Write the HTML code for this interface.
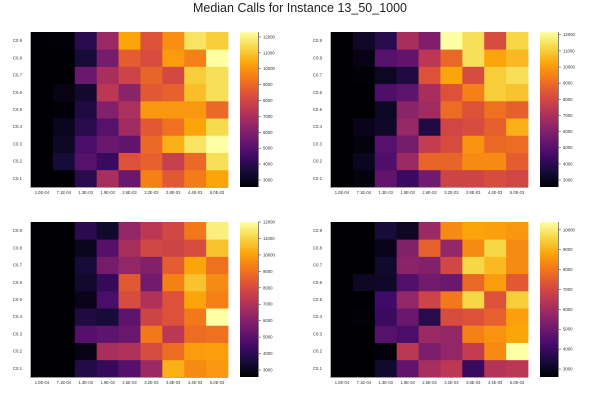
<!DOCTYPE html>
<html><head><meta charset="utf-8"><style>
html,body{margin:0;padding:0;background:#fff;width:600px;height:400px;overflow:hidden}
svg{display:block;font-family:"Liberation Sans",sans-serif}
</style></head><body>
<svg id="chart" width="600" height="400" viewBox="0 0 600 400">
<text x="300" y="12" text-anchor="middle" font-size="12.5" fill="#222">Median Calls for Instance 13_50_1000</text>
</svg>
<script>
const xLabels = ["1.0E-04","7.1E-04","1.3E-03","1.9E-03","2.6E-03","3.2E-03","3.8E-03","4.4E-03","5.0E-03"];
const yLabels = ["C0.1","C0.2","C0.3","C0.4","C0.5","C0.6","C0.7","C0.8","C0.9"];
// rows listed bottom (C0.1) to top (C0.9)
const values1 = [
[2560,2560,3930,6950,5490,9580,8600,9480,10360],
[2560,3540,5000,4320,8410,8800,7730,9000,11530],
[2560,3150,4700,5490,5290,9000,10560,11630,12310],
[2560,3050,3930,5000,6750,8600,9190,10360,11430],
[2560,2660,3730,6070,7050,10070,10070,10070,9000],
[2560,2850,3340,7440,6270,8600,8800,10850,11530],
[2560,2560,5490,6950,7920,8900,8120,11140,11530],
[2560,2560,3540,5780,8700,8220,10170,9580,12310],
[2600,2650,4000,6650,10360,8410,9870,11630,11140]];
const values2 = [
[2570,2760,5260,4300,5640,7850,7850,8130,7940],
[2570,3050,4770,6600,8810,8810,9670,9670,8620],
[2570,2760,4970,5740,7560,8130,9860,8900,9000],
[2570,2950,3240,6500,3720,7940,8130,8710,10440],
[2570,2570,3140,6210,6690,9000,8330,9100,8710],
[2570,2570,4770,5160,6890,8330,9480,11010,10820],
[2570,2660,3140,3720,8330,10250,8130,11010,11400],
[2570,2850,4970,5260,7370,8900,11400,10250,10630],
[2570,3240,3910,6890,5930,12170,11400,8130,11210]];
const values3 = [
[2575,2575,3800,4180,4930,6530,10300,9550,9830],
[2575,2575,2860,6820,7005,8040,8890,9930,10020],
[2575,2575,4930,5120,5400,9170,7290,8890,8980],
[2575,2575,3705,3520,5120,7760,8230,9170,12000],
[2575,2575,2950,4650,8040,7005,8230,10120,9360],
[2575,2575,3330,4180,8420,5590,9360,10680,9550],
[2575,2575,3520,5680,6345,5970,8510,10120,8980],
[2575,2575,3050,4930,6820,7850,7760,8040,10680],
[2575,2575,3990,3330,6345,7290,7850,9170,11620]];
const values4 = [
[2600,2600,3220,4780,6110,6500,4000,6340,6500],
[2600,2600,2680,6500,5250,5720,6650,8360,10390],
[2600,2600,4550,4310,5870,5720,8210,8520,8830],
[2600,2680,4000,4940,3690,7120,7270,7590,8750],
[2600,2600,4160,5720,6880,8050,9610,7270,9460],
[2600,3070,3150,4470,5090,4940,7740,8680,7430],
[2600,2600,3220,5560,5400,6960,9610,9140,8360],
[2600,2600,2910,5400,7590,5720,8360,9610,8360],
[2600,2600,3380,3070,5870,8360,8830,8750,8600]];
const cbTicks1 = [3000,4000,5000,6000,7000,8000,9000,10000,11000,12000];
const cbTicks2 = [3000,4000,5000,6000,7000,8000,9000,10000,11000,12000];
const cbTicks3 = [3000,4000,5000,6000,7000,8000,9000,10000,11000,12000];
const cbTicks4 = [3000,4000,5000,6000,7000,8000,9000,10000];

const INF = ["#000004","#160b39","#420a68","#6a176e","#932667","#bc3754","#dd513a","#f37819","#fca50a","#f6d746","#fcffa4"];
function hex(c){return [1,3,5].map(i=>parseInt(c.substr(i,2),16));}
function inferno(t){t=Math.max(0,Math.min(1,t));const p=t*10,i=Math.min(9,Math.floor(p)),f=p-i;
 const a=hex(INF[i]),b=hex(INF[i+1]);return "rgb("+a.map((v,k)=>Math.round(v+(b[k]-v)*f)).join(",")+")";}
const NS="http://www.w3.org/2000/svg";
const svg=document.getElementById("chart");
function mk(tag,attrs,parent){const e=document.createElementNS(NS,tag);for(const k in attrs)e.setAttribute(k,attrs[k]);(parent||svg).appendChild(e);return e;}

const panels=[
 {vals:values1,ticks:cbTicks1,ox:0,oy:0,vmin:2560,vmax:12310},
 {vals:values2,ticks:cbTicks2,ox:300,oy:0,vmin:2566,vmax:12170},
 {vals:values3,ticks:cbTicks3,ox:0,oy:190,vmin:2575,vmax:12000},
 {vals:values4,ticks:cbTicks4,ox:300,oy:190,vmin:2600,vmax:10390}];

const defs=mk("defs",{});
const grad=mk("linearGradient",{id:"infg",x1:"0",y1:"1",x2:"0",y2:"0"},defs);
INF.forEach((c,i)=>mk("stop",{offset:(i/10),"stop-color":c},grad));

panels.forEach((P,pi)=>{
 const g=mk("g",{});
 
 
 const L=P.ox+31,R=P.ox+228,T=P.oy+32,B=P.oy+187;
 const cw=(R-L)/9,ch=(B-T)/9;
 const xs=i=>L+i*cw, ys=j=>B-(j+1)*ch;
 P.vals.forEach((row,j)=>row.forEach((v,i)=>{
  const r=mk("rect",{x:xs(i),y:ys(j),width:cw+0.4,height:ch+0.4,fill:inferno((v-P.vmin)/(P.vmax-P.vmin))},g);
  
  
 }));
 const ax=mk("path",{d:`M${L-0.5},${T} V${B+0.5} H${R}`,stroke:"#999",fill:"none","stroke-width":0.8},g);
 
 
 yLabels.forEach((s,j)=>{const t=mk("text",{x:L-9,y:ys(j)+ch/2+1.5,"font-size":4.3,"text-anchor":"end",fill:"#333"},g);t.textContent=s;
  
  });
 xLabels.forEach((s,i)=>{const t=mk("text",{x:xs(i)+cw/2,y:B+7,"font-size":4.1,"text-anchor":"middle",fill:"#333"},g);t.textContent=s;
  
  });
 // colorbar
 const cL=P.ox+240,cR=P.ox+258;
 const cb=mk("rect",{x:cL,y:T,width:cR-cL,height:B-T,fill:"url(#infg)"},g);
 
 
 mk("line",{x1:cR+0.5,y1:T,x2:cR+0.5,y2:B,stroke:"#555","stroke-width":0.7},g);
 const cy=v=>B-(v-P.vmin)/(P.vmax-P.vmin)*(B-T);
 P.ticks.forEach(v=>{
  mk("line",{x1:cR,y1:cy(v),x2:cR+3,y2:cy(v),stroke:"#555","stroke-width":0.6},g);
  const t=mk("text",{x:cR+5,y:cy(v)+1.5,"font-size":4.3,fill:"#333"},g);t.textContent=v;
  
  
 });
});
</script>
</body></html>
